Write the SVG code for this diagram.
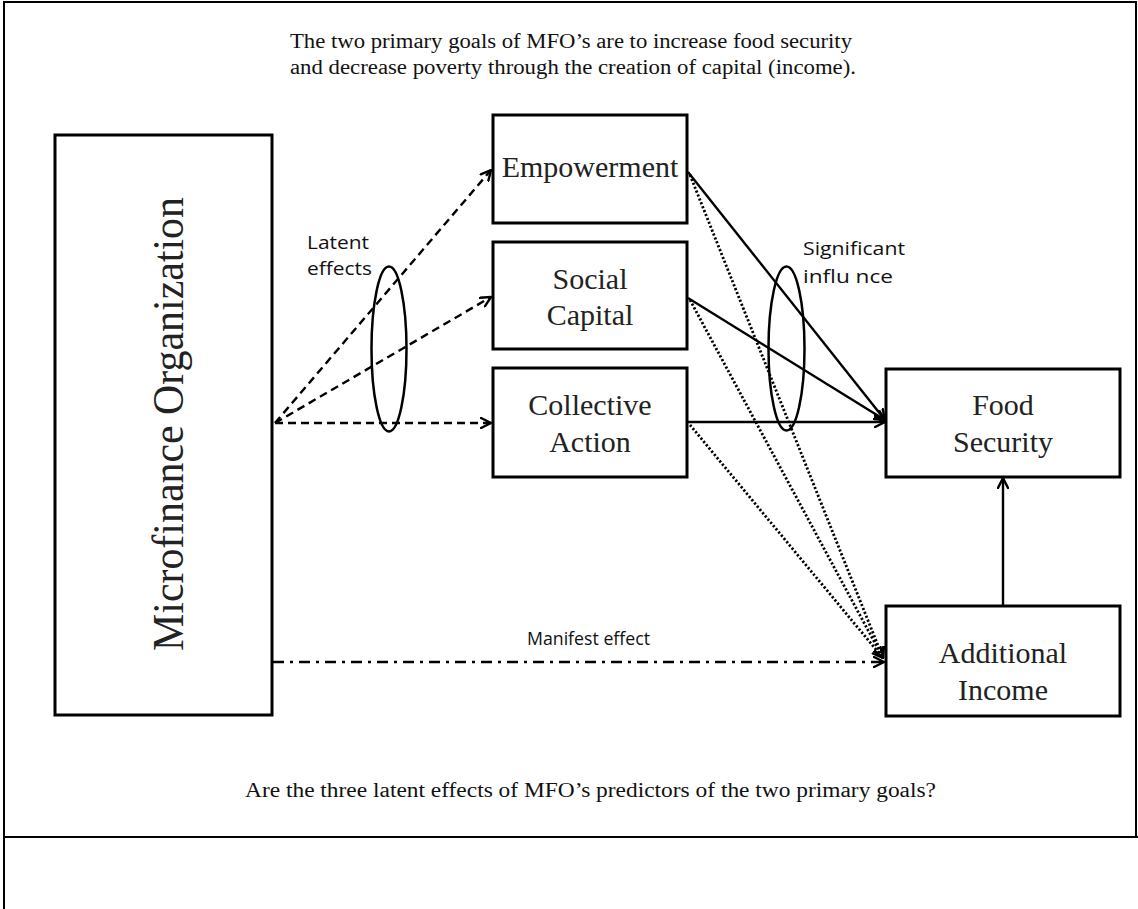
<svg xmlns="http://www.w3.org/2000/svg" width="1138" height="909" viewBox="0 0 1138 909">
<style>
.box{fill:#fff;stroke:#000;stroke-width:3}
.nt{font-family:"Liberation Serif",serif;font-size:30px;fill:#222;text-anchor:middle}
.cap{font-family:"Liberation Serif",serif;font-size:20px;fill:#111}
.lab{font-family:"Open Sans","Liberation Sans",sans-serif;font-size:19px;fill:#111}
.c{fill:none;stroke:#000;stroke-width:2.4}
.dash{stroke-dasharray:8 5}
.dot{stroke-dasharray:2.2 2;stroke-width:2.8}
.dd{stroke-dasharray:11 6 3 6}
.ell{fill:none;stroke:#000;stroke-width:2.5}
</style>
<defs>
<marker id="ah" viewBox="0 0 12 12" refX="11" refY="6" markerWidth="12" markerHeight="12" markerUnits="userSpaceOnUse" orient="auto">
<path d="M1,1 L11,6 L1,11" fill="none" stroke="#000" stroke-width="2.4" stroke-linecap="round" stroke-linejoin="round"/>
</marker>
</defs>
<rect width="1138" height="909" fill="#fff"/>
<g id="frame" fill="none" stroke="#000" stroke-width="2">
<path d="M4,909 L4,2 L1136,2 L1136,837"/>
<path d="M4,837 L1138,837"/>
</g>
<g id="captions">
<text class="cap" x="290" y="48" textLength="562" lengthAdjust="spacingAndGlyphs">The two primary goals of MFO’s are to increase food security</text>
<text class="cap" x="290" y="74" textLength="566" lengthAdjust="spacingAndGlyphs">and decrease poverty through the creation of capital (income).</text>
<text class="cap" x="245" y="797" textLength="691" lengthAdjust="spacingAndGlyphs">Are the three latent effects of MFO’s predictors of the two primary goals?</text>
</g>
<g id="connectors">
<line class="c dash" x1="275" y1="423" x2="491" y2="170" marker-end="url(#ah)"/>
<line class="c dash" x1="275" y1="423" x2="491" y2="297" marker-end="url(#ah)"/>
<line class="c dash" x1="275" y1="423" x2="491" y2="423" marker-end="url(#ah)"/>
<line class="c" x1="688" y1="172" x2="885" y2="420" marker-end="url(#ah)"/>
<line class="c" x1="688" y1="298" x2="885" y2="420" marker-end="url(#ah)"/>
<line class="c" x1="688" y1="422" x2="885" y2="422" marker-end="url(#ah)"/>
<line class="c dot" x1="690" y1="175" x2="883" y2="658" marker-end="url(#ah)"/>
<line class="c dot" x1="690" y1="300" x2="883" y2="658" marker-end="url(#ah)"/>
<line class="c dot" x1="690" y1="425" x2="883" y2="658" marker-end="url(#ah)"/>
<line class="c dd" x1="273" y1="662" x2="884" y2="662" marker-end="url(#ah)"/>
<line class="c" x1="1003" y1="606" x2="1003" y2="478" marker-end="url(#ah)"/>
<ellipse class="ell" cx="389" cy="349" rx="17.5" ry="82.5"/>
<ellipse class="ell" cx="786.5" cy="348.5" rx="18" ry="82"/>
<text class="lab" x="307" y="249" textLength="62" lengthAdjust="spacingAndGlyphs">Latent</text>
<text class="lab" x="307" y="275" textLength="65" lengthAdjust="spacingAndGlyphs">effects</text>
<text class="lab" x="803" y="255" textLength="102" lengthAdjust="spacingAndGlyphs">Significant</text>
<text class="lab" x="803" y="283" textLength="90" lengthAdjust="spacingAndGlyphs">influ  nce</text>
<text class="lab" x="527" y="645" textLength="123" lengthAdjust="spacingAndGlyphs">Manifest effect</text>
</g>
<g id="mfo">
<rect class="box" x="55" y="135" width="217" height="580"/>
<text class="nt" transform="translate(183,424) rotate(-90)" x="0" y="0" style="font-size:44px" textLength="454" lengthAdjust="spacingAndGlyphs">Microfinance Organization</text>
</g>
<g id="empowerment">
<rect class="box" x="493" y="115" width="194" height="108"/>
<text class="nt" x="590" y="177">Empowerment</text>
</g>
<g id="social-capital">
<rect class="box" x="493" y="242" width="194" height="107"/>
<text class="nt" x="590" y="289">Social</text>
<text class="nt" x="590" y="325">Capital</text>
</g>
<g id="collective-action">
<rect class="box" x="493" y="368" width="194" height="109"/>
<text class="nt" x="590" y="415">Collective</text>
<text class="nt" x="590" y="452">Action</text>
</g>
<g id="food-security">
<rect class="box" x="886" y="369" width="234" height="108"/>
<text class="nt" x="1003" y="415">Food</text>
<text class="nt" x="1003" y="452">Security</text>
</g>
<g id="additional-income">
<rect class="box" x="886" y="606" width="234" height="110"/>
<text class="nt" x="1003" y="663">Additional</text>
<text class="nt" x="1003" y="700">Income</text>
</g>
</svg>
